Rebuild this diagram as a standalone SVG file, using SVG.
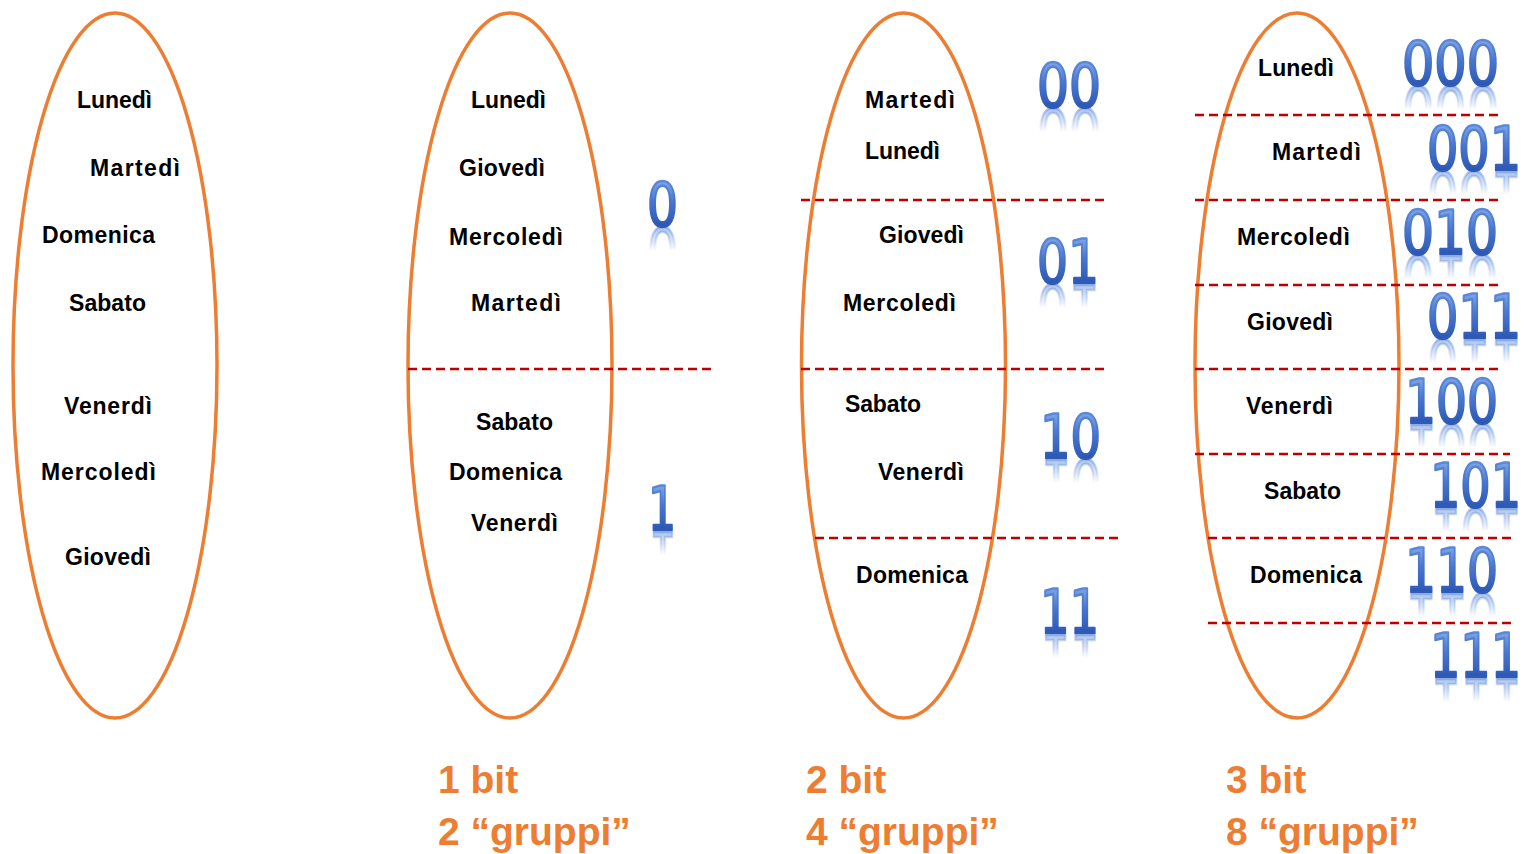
<svg xmlns="http://www.w3.org/2000/svg" width="1525" height="854" viewBox="0 0 1525 854">
  <defs>
    <linearGradient id="gBin" x1="0" y1="0" x2="0" y2="1">
      <stop offset="0.17" stop-color="#7FA6E8"/>
      <stop offset="0.45" stop-color="#4A78D0"/>
      <stop offset="0.80" stop-color="#2B57B2"/>
    </linearGradient>
    <linearGradient id="gEdge" x1="0" y1="0" x2="0" y2="1">
      <stop offset="0.17" stop-color="#5C88D8"/>
      <stop offset="0.80" stop-color="#2F5BB8"/>
    </linearGradient>
    <linearGradient id="gRefl" x1="0" y1="0" x2="0" y2="1">
      <stop offset="0" stop-color="#6F98DE" stop-opacity="0"/>
      <stop offset="0.48" stop-color="#6F98DE" stop-opacity="0"/>
      <stop offset="0.80" stop-color="#6F98DE" stop-opacity="0.55"/>
    </linearGradient>
  </defs>
  <style>
    .set { fill: none; stroke: #ED7D31; stroke-width: 3.5; }
    .sep { stroke: #C00000; stroke-width: 2.5; stroke-dasharray: 9 5; fill: none; }
    .day { font-family: "Liberation Sans", Arial, sans-serif; font-weight: bold; font-size: 23px; fill: #000; }
    .bin { font-family: "DejaVu Sans", sans-serif; font-size: 61px; fill: url(#gBin); stroke: url(#gEdge); stroke-width: 2.4; stroke-linejoin: round; }
    .refl { font-family: "DejaVu Sans", sans-serif; font-size: 61px; fill: url(#gRefl); stroke: url(#gRefl); stroke-width: 2.4; }
    .cap { font-family: "Liberation Sans", Arial, sans-serif; font-weight: bold; font-size: 39px; fill: #ED7D31; }
  </style>

  <rect width="1525" height="854" fill="#fff"/>

  <!-- set of days, unordered -->
  <g id="set0">
    <ellipse class="set" cx="115" cy="365.5" rx="102" ry="352.5"/>
    <text class="day" x="77" y="108" textLength="75">Lunedì</text>
    <text class="day" x="90" y="176" textLength="90">Martedì</text>
    <text class="day" x="42" y="243" textLength="113">Domenica</text>
    <text class="day" x="69" y="311" textLength="77">Sabato</text>
    <text class="day" x="64" y="414" textLength="88">Venerdì</text>
    <text class="day" x="41" y="480" textLength="115">Mercoledì</text>
    <text class="day" x="65" y="565" textLength="86">Giovedì</text>
  </g>

  <!-- split in 2 groups -->
  <g id="set1">
    <ellipse class="set" cx="510" cy="365.5" rx="102" ry="352.5"/>
    <text class="day" x="471" y="108" textLength="75">Lunedì</text>
    <text class="day" x="459" y="176" textLength="86">Giovedì</text>
    <text class="day" x="449" y="245" textLength="114">Mercoledì</text>
    <text class="day" x="471" y="311" textLength="90">Martedì</text>
    <text class="day" x="476" y="430" textLength="77">Sabato</text>
    <text class="day" x="449" y="480" textLength="113">Domenica</text>
    <text class="day" x="471" y="531" textLength="87">Venerdì</text>
  </g>

  <!-- split in 4 groups -->
  <g id="set2">
    <ellipse class="set" cx="903.5" cy="365.5" rx="102" ry="352.5"/>
    <text class="day" x="865" y="108" textLength="90">Martedì</text>
    <text class="day" x="865" y="159" textLength="75">Lunedì</text>
    <text class="day" x="879" y="243" textLength="85">Giovedì</text>
    <text class="day" x="843" y="311" textLength="113">Mercoledì</text>
    <text class="day" x="845" y="412" textLength="76">Sabato</text>
    <text class="day" x="878" y="480" textLength="86">Venerdì</text>
    <text class="day" x="856" y="583" textLength="112">Domenica</text>
  </g>

  <!-- split in 8 groups -->
  <g id="set3">
    <ellipse class="set" cx="1297" cy="365.5" rx="102" ry="352.5"/>
    <text class="day" x="1258" y="76" textLength="76">Lunedì</text>
    <text class="day" x="1272" y="160" textLength="89">Martedì</text>
    <text class="day" x="1237" y="245" textLength="113">Mercoledì</text>
    <text class="day" x="1247" y="330" textLength="86">Giovedì</text>
    <text class="day" x="1246" y="414" textLength="87">Venerdì</text>
    <text class="day" x="1264" y="499" textLength="77">Sabato</text>
    <text class="day" x="1250" y="583" textLength="112">Domenica</text>
  </g>

  <!-- group separators -->
  <g id="connectors">
    <line class="sep" x1="408" y1="369" x2="713" y2="369"/>
    <line class="sep" x1="801" y1="200" x2="1107" y2="200"/>
    <line class="sep" x1="801" y1="369" x2="1107" y2="369"/>
    <line class="sep" x1="815" y1="538" x2="1120" y2="538"/>
    <line class="sep" x1="1195" y1="115" x2="1500" y2="115"/>
    <line class="sep" x1="1195" y1="200" x2="1500" y2="200"/>
    <line class="sep" x1="1195" y1="285" x2="1500" y2="285"/>
    <line class="sep" x1="1195" y1="369" x2="1500" y2="369"/>
    <line class="sep" x1="1195" y1="454" x2="1510" y2="454"/>
    <line class="sep" x1="1208" y1="538" x2="1513" y2="538"/>
    <line class="sep" x1="1208" y1="623" x2="1513" y2="623"/>
  </g>

  <!-- binary codes with mirrored reflections -->
  <g id="codes1">
    <text class="refl" x="647" y="226" textLength="31" lengthAdjust="spacingAndGlyphs" transform="translate(0,454) scale(1,-1)">0</text>
    <text class="bin" x="647" y="226" textLength="31" lengthAdjust="spacingAndGlyphs">0</text>
    <text class="refl" x="648" y="530" textLength="28" lengthAdjust="spacingAndGlyphs" transform="translate(0,1062) scale(1,-1)">1</text>
    <text class="bin" x="648" y="530" textLength="28" lengthAdjust="spacingAndGlyphs">1</text>
  </g>

  <g id="codes2">
    <text class="refl" x="1037" y="107" textLength="64" lengthAdjust="spacingAndGlyphs" transform="translate(0,216) scale(1,-1)">00</text>
    <text class="bin" x="1037" y="107" textLength="64" lengthAdjust="spacingAndGlyphs">00</text>
    <text class="refl" x="1037" y="283" textLength="62" lengthAdjust="spacingAndGlyphs" transform="translate(0,568) scale(1,-1)">01</text>
    <text class="bin" x="1037" y="283" textLength="62" lengthAdjust="spacingAndGlyphs">01</text>
    <text class="refl" x="1040" y="458" textLength="61" lengthAdjust="spacingAndGlyphs" transform="translate(0,918) scale(1,-1)">10</text>
    <text class="bin" x="1040" y="458" textLength="61" lengthAdjust="spacingAndGlyphs">10</text>
    <text class="refl" x="1040" y="633" textLength="59" lengthAdjust="spacingAndGlyphs" transform="translate(0,1268) scale(1,-1)">11</text>
    <text class="bin" x="1040" y="633" textLength="59" lengthAdjust="spacingAndGlyphs">11</text>
  </g>

  <g id="codes3">
    <text class="refl" x="1402" y="85" textLength="97" lengthAdjust="spacingAndGlyphs" transform="translate(0,172) scale(1,-1)">000</text>
    <text class="bin" x="1402" y="85" textLength="97" lengthAdjust="spacingAndGlyphs">000</text>
    <text class="refl" x="1427" y="170" textLength="94" lengthAdjust="spacingAndGlyphs" transform="translate(0,342) scale(1,-1)">001</text>
    <text class="bin" x="1427" y="170" textLength="94" lengthAdjust="spacingAndGlyphs">001</text>
    <text class="refl" x="1402" y="254" textLength="96" lengthAdjust="spacingAndGlyphs" transform="translate(0,510) scale(1,-1)">010</text>
    <text class="bin" x="1402" y="254" textLength="96" lengthAdjust="spacingAndGlyphs">010</text>
    <text class="refl" x="1427" y="338" textLength="94" lengthAdjust="spacingAndGlyphs" transform="translate(0,678) scale(1,-1)">011</text>
    <text class="bin" x="1427" y="338" textLength="94" lengthAdjust="spacingAndGlyphs">011</text>
    <text class="refl" x="1405" y="423" textLength="93" lengthAdjust="spacingAndGlyphs" transform="translate(0,848) scale(1,-1)">100</text>
    <text class="bin" x="1405" y="423" textLength="93" lengthAdjust="spacingAndGlyphs">100</text>
    <text class="refl" x="1430" y="507" textLength="91" lengthAdjust="spacingAndGlyphs" transform="translate(0,1016) scale(1,-1)">101</text>
    <text class="bin" x="1430" y="507" textLength="91" lengthAdjust="spacingAndGlyphs">101</text>
    <text class="refl" x="1405" y="592" textLength="93" lengthAdjust="spacingAndGlyphs" transform="translate(0,1186) scale(1,-1)">110</text>
    <text class="bin" x="1405" y="592" textLength="93" lengthAdjust="spacingAndGlyphs">110</text>
    <text class="refl" x="1430" y="677" textLength="91" lengthAdjust="spacingAndGlyphs" transform="translate(0,1356) scale(1,-1)">111</text>
    <text class="bin" x="1430" y="677" textLength="91" lengthAdjust="spacingAndGlyphs">111</text>
  </g>

  <!-- captions -->
  <g id="captions">
    <text class="cap" x="438" y="793">1 bit</text>
    <text class="cap" x="438" y="845">2 “gruppi”</text>
    <text class="cap" x="806" y="793">2 bit</text>
    <text class="cap" x="806" y="845">4 “gruppi”</text>
    <text class="cap" x="1226" y="793">3 bit</text>
    <text class="cap" x="1226" y="845">8 “gruppi”</text>
  </g>
</svg>
